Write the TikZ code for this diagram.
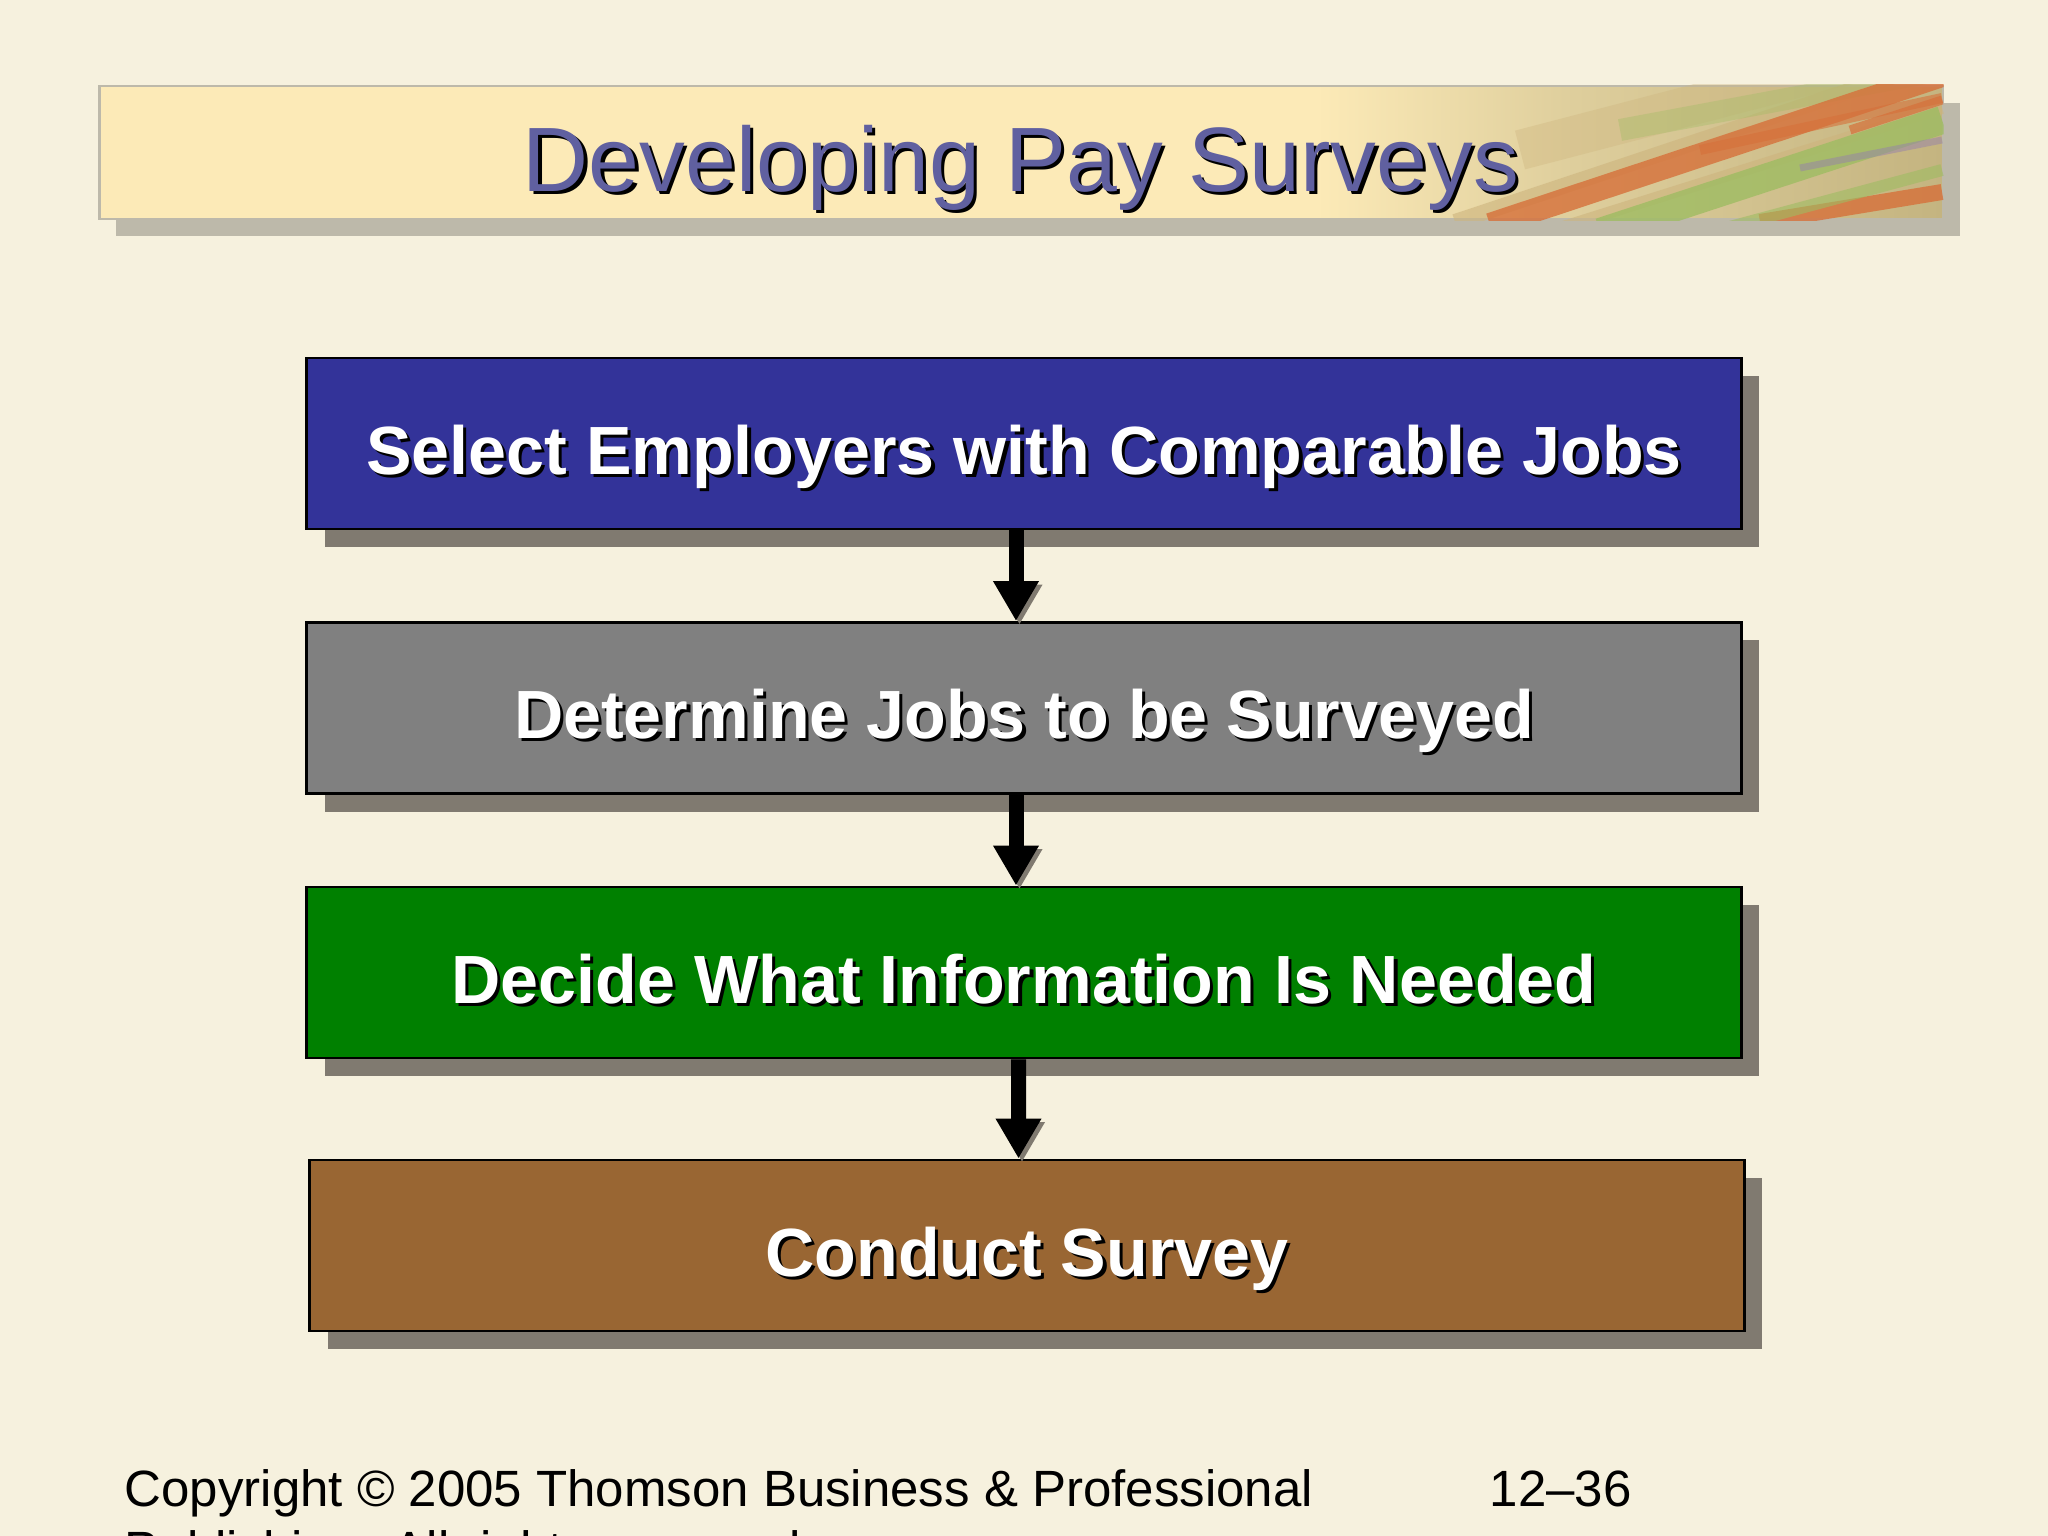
\documentclass[tikz,border=0pt]{standalone}
\usepackage{fontspec}
\setmainfont{Liberation Sans}
\usepackage{tikz}
\usetikzlibrary{shadows}
\usetikzlibrary{positioning}
\usetikzlibrary{arrows.meta,calc}

\definecolor{paper}{RGB}{246,241,222}
\definecolor{selblue}{RGB}{51,51,153}
\definecolor{detgray}{RGB}{128,128,128}
\definecolor{decgreen}{RGB}{0,128,0}
\definecolor{conbrown}{RGB}{153,102,51}
\definecolor{boxshadow}{RGB}{128,122,112}
\definecolor{bannershadow}{RGB}{189,185,170}
\definecolor{bannerA}{RGB}{252,234,183}
\definecolor{bannerB}{RGB}{222,206,156}
\definecolor{bannerC}{RGB}{196,180,128}
\definecolor{titleblue}{RGB}{96,96,160}
\definecolor{streakorange}{RGB}{214,112,58}
\definecolor{streakgreen}{RGB}{158,188,98}
\definecolor{streaktan}{RGB}{205,180,125}
\definecolor{streakpurple}{RGB}{150,130,170}

\pgfdeclarehorizontalshading{bannershade}{100bp}{color(0bp)=(bannerA); color(25bp)=(bannerA); color(58bp)=(bannerA); color(65bp)=(bannerB); color(75bp)=(bannerC); color(100bp)=(bannerC)}

\newcommand{\dropText}[2][black]{\leavevmode\rlap{\hspace{0.9pt}\raisebox{-0.9pt}{\color{#1}#2}}#2}

\tikzset{
  stepbox/.style={draw=black, line width=0.8pt, minimum width=14.34cm, minimum height=1.71cm,
    inner sep=0pt, text=white, text height=20pt, text depth=2.6pt,
    font=\bfseries\fontsize{19.4pt}{23pt}\selectfont,
    drop shadow={shadow xshift=0.18cm, shadow yshift=-0.18cm, fill=boxshadow, opacity=1}},
  flowarrow/.style={line width=0.15cm, -{Triangle[length=0.4cm, width=0.43cm]},
    preaction={draw=boxshadow, transform canvas={shift={(0.035cm,-0.035cm)}}}},
  banner/.style={draw=bannershadow, line width=0.6pt, shading=bannershade,
    minimum width=18.42cm, minimum height=1.33cm, inner sep=0pt,
    drop shadow={shadow xshift=0.17cm, shadow yshift=-0.17cm, fill=bannershadow, opacity=1}},
  footer/.style={inner sep=0pt, font=\fontsize{14.5pt}{17.4pt}\selectfont}
}

\begin{document}
\begin{tikzpicture}[x=0.01cm, y=-0.01cm]

  \useasboundingbox (0,0) rectangle (2048,1536);
  \clip (0,0) rectangle (2048,1536);
  \fill[paper] (0,0) rectangle (2048,1536);

  \def\bx{1024};

  %title banner
  \node[banner] (banner) at (1021,152.5) {};
  \begin{scope}
    \clip (banner.south west) rectangle (banner.north east);
    \foreach \xa/\ya/\xb/\yb/\c/\w/\o in {1520/150/1942/40/streaktan/40/0.35,
        1455/222/1942/60/streaktan/16/0.6, 1620/130/1942/70/streakgreen/22/0.35,
        1490/225/1942/75/streakorange/24/0.8, 1560/228/1942/108/streaktan/12/0.6,
        1600/232/1942/120/streakgreen/28/0.8, 1700/150/1942/98/streakorange/10/0.6,
        1760/222/1942/192/streakorange/16/0.8, 1800/168/1942/140/streakpurple/7/0.5,
        1850/130/1942/100/streakorange/9/0.7, 1700/235/1942/170/streakgreen/12/0.6}{
      \draw[\c, line width=\w*0.01cm, opacity=\o] (\xa,\ya) -- (\xb,\yb);
    }
  \end{scope}
  \node[anchor=base, inner sep=0pt, text=titleblue, font=\fontsize{26pt}{31pt}\selectfont]
    (title) at (1021,191) {\dropText[black]{Developing Pay Surveys}};

  %steps
  \foreach \y/\txt/\name/\fillc/\dx in {443.5/Select Employers with Comparable Jobs/sel/selblue/0,
      708/Determine Jobs to be Surveyed/det/detgray/0,
      972.5/Decide What Information Is Needed/dec/decgreen/0,
      1245.5/Conduct Survey/con/conbrown/3}{
    \node[stepbox, fill=\fillc] (\name) at (\bx+\dx,\y) {\dropText{\txt}};
  }

  %arrows
  \foreach \a/\b/\sa/\sb in {sel/det/-0.08/-0.08, det/dec/-0.08/-0.08, dec/con/-0.055/-0.085}{
    \draw[flowarrow] ([xshift=\sa cm]\a.south) -- ([xshift=\sb cm]\b.north);
  }

  %footer
  \node[footer, anchor=base west] (copy) at (124,1506) {Copyright © 2005 Thomson Business \& Professional};
  \node[footer, anchor=base west] (page) at (1489,1506) {12–36};
  \node[footer, anchor=base west] (rights) at (124,1567) {Publishing. All rights reserved.};

\end{tikzpicture}
\end{document}
